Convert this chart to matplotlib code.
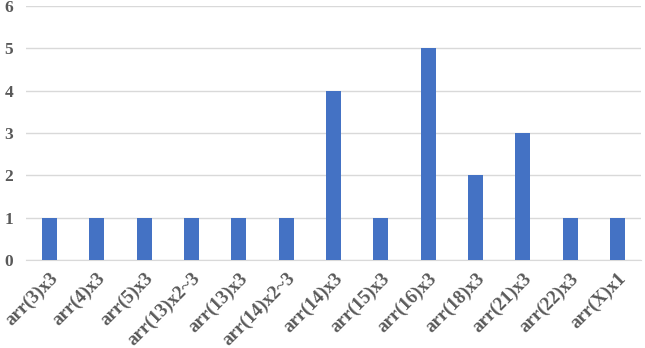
import numpy as np
import matplotlib.pyplot as plt

# data
labels = ["arr(3)x3", "arr(4)x3", "arr(5)x3", "arr(13)x2~3", "arr(13)x3",
          "arr(14)x2~3", "arr(14)x3", "arr(15)x3", "arr(16)x3", "arr(18)x3",
          "arr(21)x3", "arr(22)x3", "arr(X)x1"]
counts = [1, 1, 1, 1, 1, 1, 4, 1, 5, 2, 3, 1, 1]

plt.rcParams['font.family'] = ['Liberation Serif', 'DejaVu Serif']
text_color = '#595959'

fig = plt.figure(figsize=(6.45, 3.48), dpi=100)
ax = fig.add_axes([0.040, 0.253, 0.954, 0.730])

x = np.arange(len(labels))
ax.bar(x, counts, width=0.32, color='#4472c4', zorder=3)

ax.set_xlim(-0.5, len(labels) - 0.5)
ax.set_ylim(0, 6)
ax.set_yticks(range(7))
ax.yaxis.grid(True, color='#d9d9d9', linewidth=1, zorder=0)

ax.set_xticks(x)
ax.set_xticklabels(labels, rotation=45, ha='right', rotation_mode='anchor',
                   fontsize=13.5, fontweight='bold', color=text_color)
for t in ax.get_yticklabels():
    t.set_fontsize(12.5)
    t.set_fontweight('bold')
    t.set_color(text_color)

ax.tick_params(axis='both', length=0)
ax.tick_params(axis='y', pad=9)
ax.tick_params(axis='x', pad=7)
for s in ['top', 'right', 'left']:
    ax.spines[s].set_visible(False)
ax.spines['bottom'].set_color('#d9d9d9')

fig.savefig('out.png', dpi=100)
